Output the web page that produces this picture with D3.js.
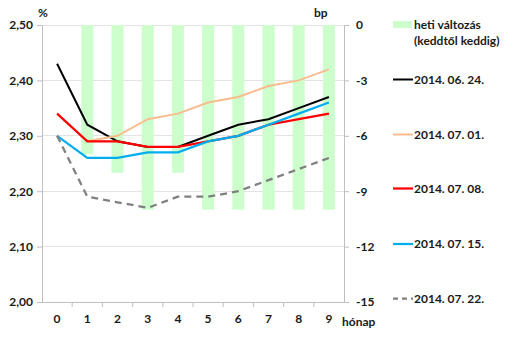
<!DOCTYPE html>
<html><head><meta charset="utf-8">
<script src="https://cdn.jsdelivr.net/npm/d3@7"></script>
<style>
body{margin:0;background:#fff;}
text{font-family:Lato,"Liberation Sans",sans-serif;font-weight:bold;fill:#1a1a1a;}
</style></head>
<body><svg id="c" width="517" height="337"></svg>
<script>
const categories = ["0","1","2","3","4","5","6","7","8","9"];
const weeklyChange = [0, -7, -8, -10, -8, -10, -10, -10, -10, -10];
const s0624 = [2.43, 2.32, 2.29, 2.28, 2.28, 2.30, 2.32, 2.33, 2.35, 2.37];
const s0701 = [null, 2.29, 2.30, 2.33, 2.34, 2.36, 2.37, 2.39, 2.40, 2.42];
const s0708 = [2.34, 2.29, 2.29, 2.28, 2.28, 2.29, 2.30, 2.32, 2.33, 2.34];
const s0715 = [2.30, 2.26, 2.26, 2.27, 2.27, 2.29, 2.30, 2.32, 2.34, 2.36];
const s0722 = [2.30, 2.19, 2.18, 2.17, 2.19, 2.19, 2.20, 2.22, 2.24, 2.26];
const leftTicks = [2.00, 2.10, 2.20, 2.30, 2.40, 2.50];
const rightTicks = [0, -3, -6, -9, -12, -15];
const barLabel = ["heti változás", "(keddtől keddig)"];

const series = [
  {name:"2014. 06. 24.", values:s0624, color:"#000000", dash:null, w:2},
  {name:"2014. 07. 01.", values:s0701, color:"#f9bc8e", dash:null, w:2},
  {name:"2014. 07. 08.", values:s0708, color:"#ff0000", dash:null, w:2.25},
  {name:"2014. 07. 15.", values:s0715, color:"#00aeef", dash:null, w:2.25},
  {name:"2014. 07. 22.", values:s0722, color:"#808080", dash:"7,5", w:2.25}
];

const svg = d3.select("#c");
const L = 42, R = 344, T = 25, B = 302;
const xb = d3.scaleBand().domain(categories).range([L, R]);
const yL = d3.scaleLinear().domain([2.0, 2.5]).range([B, T]);
const yR = d3.scaleLinear().domain([-15, 0]).range([B, T]);
const fontCss = "Lato,'Liberation Sans',sans-serif";

// gridlines
svg.append("g").selectAll("line").data(leftTicks.slice(1)).join("line")
  .attr("x1", L).attr("x2", R).attr("y1", d => yL(d)).attr("y2", d => yL(d))
  .attr("stroke", "#e3e3e3").attr("stroke-width", 1).attr("shape-rendering","crispEdges");

// bars
svg.append("g").selectAll("rect").data(categories).join("rect")
  .attr("x", (d) => xb(d) + xb.bandwidth()/2 - 6)
  .attr("width", 12)
  .attr("y", yR(0))
  .attr("height", (d,i) => yR(weeklyChange[i]) - yR(0))
  .attr("fill", "#ccffcc");

function styleAxis(g){
  g.select(".domain").attr("stroke", "#bfbfbf");
  g.selectAll(".tick line").attr("stroke", "#bfbfbf");
  g.selectAll("text").style("font-size", "12px").style("font-family", fontCss)
    .style("font-weight","bold").attr("fill","#1a1a1a");
}

// left axis
const axL = svg.append("g").attr("transform", `translate(${L},0)`)
  .call(d3.axisLeft(yL).tickValues(leftTicks).tickSize(5).tickPadding(4)
    .tickFormat(d => d3.format(".2f")(d).replace(".", ",")));
styleAxis(axL);

// right axis
const axR = svg.append("g").attr("transform", `translate(${R},0)`)
  .call(d3.axisRight(yR).tickValues(rightTicks).tickSize(5).tickPadding(7)
    .tickFormat(d => String(d)));
styleAxis(axR);

// bottom axis
const axB = svg.append("g").attr("transform", `translate(0,${B})`)
  .call(d3.axisBottom(xb).tickSize(0).tickPadding(12));
styleAxis(axB);
svg.append("g").selectAll("line").data(categories.slice(1)).join("line")
  .attr("x1", d => xb(d)).attr("x2", d => xb(d)).attr("y1", B).attr("y2", B + 5)
  .attr("stroke", "#bfbfbf");

// lines
const line = d3.line().defined(d => d != null)
  .x((d,i) => xb(categories[i]) + xb.bandwidth()/2).y(d => yL(d));
series.forEach(s => {
  svg.append("path").datum(s.values)
    .attr("d", line).attr("fill","none").attr("stroke", s.color)
    .attr("stroke-width", s.w).attr("stroke-dasharray", s.dash)
    .attr("stroke-linejoin","miter");
});

// axis titles
svg.append("text").attr("x", 38).attr("y", 17).style("font-size","12px").text("%");
svg.append("text").attr("x", 314).attr("y", 17).style("font-size","12px").text("bp");
svg.append("text").attr("x", 342).attr("y", 326).style("font-size","12px").text("hónap");

// legend
const lx = 393;
svg.append("rect").attr("x", lx).attr("y", 21).attr("width", 19).attr("height", 7).attr("fill", "#ccffcc");
svg.append("text").attr("x", 414).attr("y", 29).style("font-size","12px").text(barLabel[0]);
svg.append("text").attr("x", 414).attr("y", 45).style("font-size","12px").text(barLabel[1]);
const legY = [79.5, 134.5, 188.5, 244, 298.5];
series.forEach((s,i) => {
  svg.append("line").attr("x1", lx).attr("x2", lx + 20).attr("y1", legY[i]).attr("y2", legY[i])
    .attr("stroke", s.color).attr("stroke-width", s.w).attr("stroke-dasharray", s.dash ? "5,4" : null);
  svg.append("text").attr("x", 414).attr("y", legY[i] + 4).style("font-size","12px").text(s.name);
});
</script></body></html>
